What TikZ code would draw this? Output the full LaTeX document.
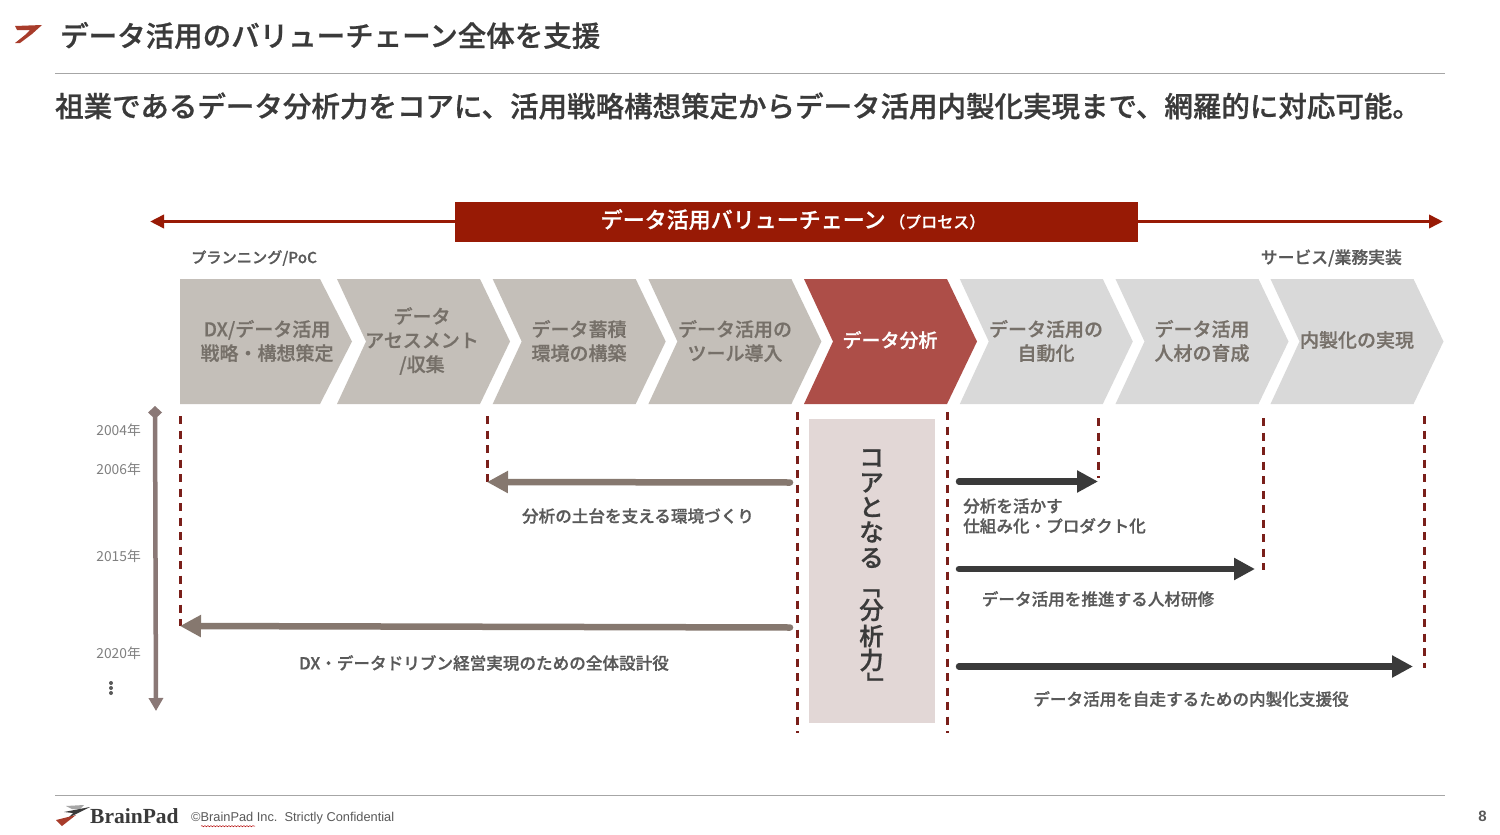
\documentclass[tikz,border=0pt]{standalone}
\usepackage{fontspec}
\setmainfont{Noto Sans CJK JP Medium}[RawFeature={embolden=0.7}]
\newfontfamily\latinfont{Liberation Sans}
\newfontfamily\logofont{Liberation Serif}
\newfontfamily\yearfont{Noto Sans CJK JP}
\usetikzlibrary{
    arrows.meta,
    decorations.pathmorphing,
    positioning
}
\definecolor{darkred}{HTML}{981A05}
\definecolor{coretan}{HTML}{E2D7D6}
\definecolor{graytan}{HTML}{C4BFB9}
\definecolor{lightchev}{HTML}{D9D9D9}
\definecolor{hotchev}{HTML}{AD4E48}
\definecolor{browngray}{HTML}{86786F}
\definecolor{timeline}{HTML}{8A7876}
\definecolor{inktext}{HTML}{3A3A3A}
\definecolor{midtext}{HTML}{595959}
\definecolor{chevtext}{HTML}{767069}
\definecolor{guidered}{HTML}{7A1F1A}
\tikzset{
    plaintext/.style={inner sep=0pt,text=midtext,font=\fontsize{16.6}{20}\selectfont,align=left},
    chevtxt/.style={inner sep=0pt,text=chevtext,align=center,font=\fontsize{19}{24}\selectfont},
    yeartxt/.style={inner sep=0pt,text=gray,anchor=east,font=\yearfont\fontsize{13.8}{16}\selectfont},
    guide/.style={guidered,line width=3pt,dash pattern=on 8pt off 6.5pt},
    fatleft/.style={browngray,line width=6.5pt,line cap=round,-{Triangle[length=21pt,width=21pt]}},
    fatright/.style={inktext,line width=6.5pt,line cap=round,-{Triangle[length=21pt,width=21pt]}},
    corechar/.style={inner sep=0pt,text=inktext,font=\fontsize{24.5}{28}\selectfont},
    rule/.style={gray!70,line width=.8pt}
}
\begin{document}
\begin{tikzpicture}[x=1pt,y=-1pt]
    \useasboundingbox (0,0) rectangle (1500,835);
    \fill[white] (0,0) rectangle (1500,835);

    % header
    \fill[darkred!85!white] (15,26) -- (42,25) -- (32,34) -- (20,43) -- (15,43) -- (25,35) -- (30,30) -- (17,30) -- cycle;
    \node[anchor=west,inner sep=0pt,text=inktext,font=\fontsize{28.5}{30}\selectfont] (title) at (60,35.5) {データ活用のバリューチェーン全体を支援};
    \draw[rule] (55,73) -- (1445,73);
    \node[anchor=west,inner sep=0pt,text=inktext,font=\fontsize{28.5}{30}\selectfont] (subtitle) at (55,106) {祖業であるデータ分析力をコアに、活用戦略構想策定からデータ活用内製化実現まで、網羅的に対応可能。};

    % process banner
    \node[fill=darkred,minimum width=683pt,minimum height=40pt,inner sep=0pt] (banner) at (796.5,221.5) {};
    \node[inner sep=0pt,text=white,font=\fontsize{22}{26}\selectfont] (bannertxt) at (793,219.5) {データ活用バリューチェーン\,{\fontsize{16}{20}\selectfont（プロセス）}};
    \coordinate (leftend) at (150,221.5);
    \coordinate (rightend) at (1443,221.5);
    \draw[darkred,line width=3.5pt,-{Triangle[length=14pt,width=13pt]}] (banner.west) -- (leftend);
    \draw[darkred,line width=3.5pt,-{Triangle[length=14pt,width=13pt]}] (banner.east) -- (rightend);
    \node[plaintext,anchor=west,font=\fontsize{15.2}{20}\selectfont] (planlabel) at (191,258) {プランニング/PoC};
    \node[plaintext,anchor=east,font=\fontsize{16.8}{20}\selectfont] (servlabel) at (1402,258) {サービス/業務実装};

    % chevrons
    \fill[graytan] (180,279) -- (320,279) -- (352,341.5) -- (320,404) -- (180,404) -- cycle;
    \foreach \xa/\col in {337/graytan,492.7/graytan,648.4/graytan,804/hotchev,959.8/lightchev,1115.5/lightchev,1270.5/lightchev}
        \fill[\col] (\xa,279) -- (\xa+143,279) -- (\xa+173,341.5) -- (\xa+143,404) -- (\xa,404) -- (\xa+29,341.5) -- cycle;
    \node[chevtxt] (dx) at (267,341) {DX/データ活用\\戦略・構想策定};
    \node[chevtxt] (assess) at (422,341) {データ\\アセスメント\\/収集};
    \node[chevtxt] (store) at (579,341) {データ蓄積\\環境の構築};
    \node[chevtxt] (tool) at (735,341) {データ活用の\\ツール導入};
    \node[chevtxt,text=white] (analysis) at (890,340) {データ分析};
    \node[chevtxt] (auto) at (1046,341) {データ活用の\\自動化};
    \node[chevtxt] (people) at (1202,341) {データ活用\\人材の育成};
    \node[chevtxt] (inhouse) at (1357,340) {内製化の実現};

    % timeline
    \coordinate (timetop) at (155,406);
    \coordinate (timebot) at (156,711);
    \draw[timeline,line width=4.5pt,{Diamond[length=13pt,width=14pt]}-{Triangle[length=13pt,width=14pt]}] (timetop) -- (timebot);
    \node[yeartxt] (y2004) at (141,430) {2004年};
    \node[yeartxt] (y2006) at (141,469) {2006年};
    \node[yeartxt] (y2015) at (141,556) {2015年};
    \node[yeartxt] (y2020) at (141,653) {2020年};
    \foreach \y in {683,688,693}
        \fill[midtext] (111,\y) circle (2pt);

    % core
    \node[fill=coretan,minimum width=126pt,minimum height=304pt,inner sep=0pt] (core) at (871.5,570.5) {};
    \foreach \ch/\y in {コ/458,ア/483,と/507,な/532,る/558,分/610,析/636,力/660}
        \node[corechar] at (871.5,\y) {\ch};
    \node[corechar,rotate=-90,text height=20pt,text depth=5pt,text width=25pt,align=left] (openbr) at (866,586) {「};
    \node[corechar,rotate=-90,text height=20pt,text depth=5pt,text width=25pt,align=right] (closebr) at (877,684) {」};

    % guides
    \coordinate (g1a) at (180,416);
    \coordinate (g1b) at (180,626);
    \coordinate (g2a) at (487,416);
    \coordinate (g2b) at (487,482);
    \coordinate (g3a) at (797,412);
    \coordinate (g3b) at (797,733);
    \coordinate (g4a) at (947,412);
    \coordinate (g4b) at (947,733);
    \coordinate (g5a) at (1098,418);
    \coordinate (g5b) at (1098,478);
    \coordinate (g6a) at (1263,418);
    \coordinate (g6b) at (1263,570);
    \coordinate (g7a) at (1424,416);
    \coordinate (g7b) at (1424,668);
    \foreach \i in {1,...,7}
        \draw[guide] (g\i a) -- (g\i b);

    % arrows
    \draw[fatleft] (790,482.5) -- (g2b);
    \draw[fatleft] (790,627.5) -- (g1b);
    \coordinate (r1) at (1098,481.5);
    \coordinate (r2) at (1255,569);
    \coordinate (r3) at (1413,666.5);
    \draw[fatright] (959,481.5) -- (r1);
    \draw[fatright] (959,569) -- (r2);
    \draw[fatright] (959,666.5) -- (r3);

    % arrow labels
    \node[plaintext] (soil) at (638,516) {分析の土台を支える環境づくり};
    \node[plaintext] (whole) at (484,663) {DX・データドリブン経営実現のための全体設計役};
    \node[plaintext,anchor=west] (product) at (963,516) {分析を活かす\\仕組み化・プロダクト化};
    \node[plaintext] (training) at (1098,599) {データ活用を推進する人材研修};
    \node[plaintext] (support) at (1191,699) {データ活用を自走するための内製化支援役};

    % footer
    \draw[rule] (55,795) -- (1445,795);
    \fill[gray!70] (66,806) -- (84,805) -- (80,809) -- (72,809) -- cycle;
    \fill[inktext] (64,812) -- (90,807) -- (68,818) -- (73,813) -- cycle;
    \fill[darkred!85!white] (56,820) -- (76,815) -- (62,826) -- cycle;
    \node[anchor=west,inner sep=0pt,text=inktext,font=\logofont\fontsize{21.5}{24}\selectfont\bfseries] (logo) at (90,816) {BrainPad};
    \node[anchor=west,inner sep=0pt,text=midtext,font=\latinfont\fontsize{12.8}{15}\selectfont] (copy) at (191,818) {©BrainPad Inc.\ \ Strictly Confidential};
    \draw[red!70!black,line width=.5pt,decorate,decoration={snake,amplitude=.6pt,segment length=3pt}] (copy.south west) ++(10,2) -- ++(54,0);
    \node[anchor=east,inner sep=0pt,text=midtext,font=\latinfont\fontsize{15}{15}\selectfont\bfseries] (page) at (1487,816) {8};
\end{tikzpicture}
\end{document}
